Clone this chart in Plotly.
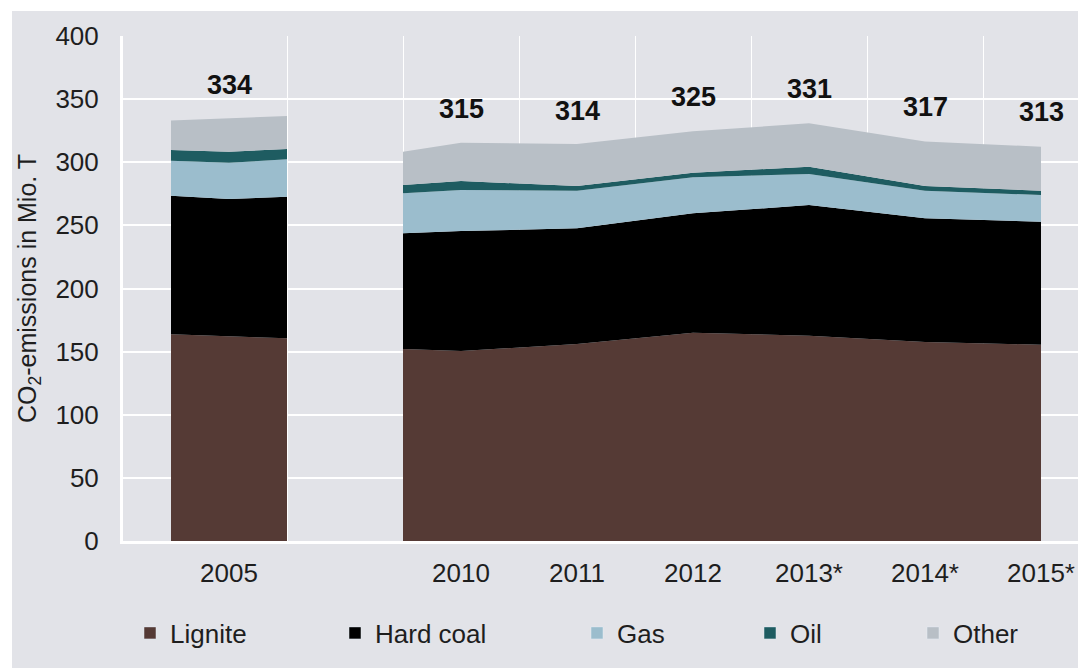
import plotly.graph_objects as go

# ---------------- data (Mio. t CO2) ----------------
categories = ["2005", "2010", "2011", "2012", "2013*", "2014*", "2015*"]
totals = [334, 315, 314, 325, 331, 317, 313]
series_names = ["Lignite", "Hard coal", "Gas", "Oil", "Other"]

# 2005 block, values at: left edge, 2005, right edge
lignite_2005 = [163.7, 162.0, 160.5]
hard_coal_2005 = [109.8, 108.9, 112.2]
gas_2005 = [27.7, 28.7, 29.6]
oil_2005 = [8.5, 8.8, 8.2]
other_2005 = [23.3, 26.1, 26.1]

# 2010-2015 block, values at: left edge, 2010, 2011, 2012, 2013*, 2014*, 2015*
lignite_1015 = [152.1, 150.5, 156.0, 165.0, 162.5, 157.6, 155.5]
hard_coal_1015 = [91.6, 95.0, 91.7, 94.6, 103.6, 98.0, 97.4]
gas_1015 = [31.7, 32.5, 29.8, 28.5, 24.6, 21.9, 21.1]
oil_1015 = [6.6, 7.1, 3.7, 3.6, 5.8, 3.7, 3.5]
other_1015 = [26.4, 30.4, 33.3, 32.8, 34.3, 35.3, 34.8]

# ---------------- styling ----------------
colors = ["#553a35", "#000000", "#9bbdcd", "#1e5c61", "#b8bfc6"]
BG = "#e2e3e8"
FONT = "Liberation Sans, Arial, sans-serif"
TXT = "#1e1e1e"

# category slots: one empty slot between 2005 and 2010
slots = [0] + [i + 1 for i in range(1, len(categories))]
x_2005 = [slots[0] - 0.5, slots[0], slots[0] + 0.5]
x_1015 = [slots[1] - 0.5] + slots[1:]

fig = go.Figure()

block_2005 = [lignite_2005, hard_coal_2005, gas_2005, oil_2005, other_2005]
block_1015 = [lignite_1015, hard_coal_1015, gas_1015, oil_1015, other_1015]

for grp, xs, block in (("a", x_2005, block_2005), ("b", x_1015, block_1015)):
    for name, col, vals in zip(series_names, colors, block):
        fig.add_trace(go.Scatter(
            x=xs, y=vals, name=name, stackgroup=grp, mode="lines",
            line=dict(width=0, color=col), fillcolor=col,
            showlegend=False, hoverinfo="skip",
        ))

# legend entries (square swatches)
legend_keys = ["legend", "legend2", "legend3", "legend4", "legend5"]
for name, col, key in zip(series_names, colors, legend_keys):
    fig.add_trace(go.Bar(x=[None], y=[None], name=name, marker_color=col,
                         legend=key, showlegend=True))

# total labels
for cat, slot, tot in zip(categories, slots, totals):
    fig.add_annotation(x=slot, y=tot, text=f"<b>{tot}</b>", showarrow=False,
                       yshift=34, yanchor="middle",
                       font=dict(family=FONT, size=27, color="#111111"))

# figure sits 8px in from the page corner (browser body margin)
W, H = 1078, 660
ML, MR, MT, MB = 115, 0, 28, 127
PW, PH = W - ML - MR, H - MT - MB

def px_to_paper_x(px):
    return (px - ML) / PW

def px_to_paper_y(py):
    return (H - MB - py) / PH

# thin white border (top and left)
fig.add_shape(type="rect", xref="paper", yref="paper", layer="below",
              x0=px_to_paper_x(0), x1=px_to_paper_x(4),
              y0=px_to_paper_y(H), y1=px_to_paper_y(0),
              fillcolor="white", line=dict(width=0))
fig.add_shape(type="rect", xref="paper", yref="paper", layer="below",
              x0=px_to_paper_x(0), x1=px_to_paper_x(W),
              y0=px_to_paper_y(3), y1=px_to_paper_y(0),
              fillcolor="white", line=dict(width=0))

legend_text_left = [170, 375, 617, 790, 953]
legend_layout = {}
for key, tl in zip(legend_keys, legend_text_left):
    legend_layout[key] = dict(
        orientation="h", xref="container", yref="container",
        x=(tl - 8 - 40) / W, xanchor="left", y=1 - 625 / H, yanchor="middle",
        bgcolor="rgba(0,0,0,0)", font=dict(family=FONT, size=26, color=TXT),
        itemwidth=30,
    )

fig.update_layout(
    width=W, height=H, autosize=False,
    margin=dict(l=ML, r=MR, t=MT, b=MB, pad=0),
    paper_bgcolor=BG, plot_bgcolor=BG,
    font=dict(family=FONT, size=26, color=TXT),
    showlegend=True,
    xaxis=dict(
        range=[-106 / 116, 7 + 45 / 116],
        tickmode="array", tickvals=slots, ticktext=categories,
        showgrid=False, zeroline=False,
        showline=True, linecolor="white", linewidth=3,
        ticks="", ticklabelstandoff=7,
        tickfont=dict(family=FONT, size=26, color=TXT),
        minor=dict(tickmode="array", tickvals=[s + 0.5 for s in range(0, 8)],
                   showgrid=True, gridcolor="white", gridwidth=1.2, ticks=""),
        fixedrange=True,
    ),
    yaxis=dict(
        range=[0, 400], tickmode="array", tickvals=list(range(0, 401, 50)),
        showgrid=True, gridcolor="white", gridwidth=1.5,
        zeroline=False, showline=True, linecolor="white", linewidth=3,
        ticks="", ticklabelstandoff=16,
        tickfont=dict(family=FONT, size=26, color=TXT),
        title=dict(text="CO<sub>2</sub>-emissions in Mio. T", standoff=12,
                   font=dict(family=FONT, size=25, color=TXT)),
        fixedrange=True,
    ),
    **legend_layout,
)

fig.write_html("out.html")
